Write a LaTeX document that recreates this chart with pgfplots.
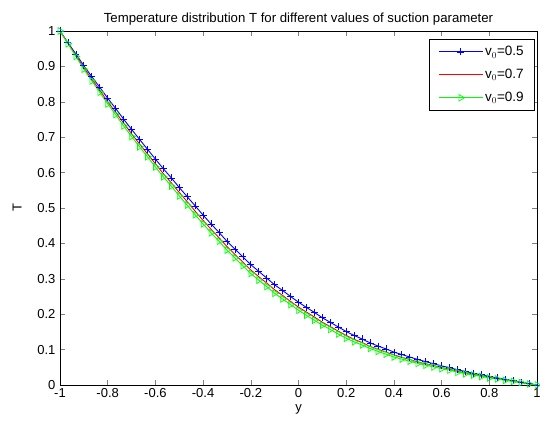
\documentclass[border=0pt]{standalone}
\usepackage{fontspec}
\setmainfont{Liberation Sans}
\usepackage{pgfplots}
\usepackage{pgfplotstable}
\pgfplotsset{compat=1.18}
\definecolor{mblue}{rgb}{0,0,1}
\definecolor{mred}{rgb}{1,0,0}
\definecolor{mgreen}{rgb}{0,1,0}
\pgfplotstableread{
x b r g
-1.0000 1.000 1.000 1.000
-0.9667 0.967 0.965 0.964
-0.9333 0.935 0.931 0.928
-0.9000 0.902 0.896 0.892
-0.8667 0.871 0.864 0.859
-0.8333 0.841 0.833 0.827
-0.8000 0.810 0.800 0.794
-0.7667 0.781 0.771 0.764
-0.7333 0.751 0.740 0.732
-0.7000 0.722 0.710 0.702
-0.6667 0.694 0.681 0.673
-0.6333 0.666 0.653 0.645
-0.6000 0.638 0.625 0.616
-0.5667 0.611 0.597 0.588
-0.5333 0.585 0.571 0.562
-0.5000 0.558 0.544 0.534
-0.4667 0.532 0.518 0.508
-0.4333 0.506 0.491 0.481
-0.4000 0.480 0.465 0.455
-0.3667 0.455 0.440 0.430
-0.3333 0.431 0.416 0.406
-0.3000 0.406 0.391 0.381
-0.2667 0.384 0.369 0.359
-0.2333 0.362 0.347 0.337
-0.2000 0.340 0.325 0.315
-0.1667 0.321 0.306 0.296
-0.1333 0.302 0.288 0.278
-0.1000 0.283 0.269 0.259
-0.0667 0.267 0.253 0.243
-0.0333 0.250 0.236 0.227
0.0000 0.234 0.220 0.211
0.0333 0.219 0.206 0.197
0.0667 0.205 0.192 0.183
0.1000 0.190 0.177 0.169
0.1333 0.177 0.165 0.157
0.1667 0.164 0.152 0.144
0.2000 0.151 0.140 0.132
0.2333 0.140 0.129 0.122
0.2667 0.130 0.120 0.113
0.3000 0.119 0.109 0.103
0.3333 0.110 0.101 0.095
0.3667 0.102 0.093 0.087
0.4000 0.093 0.085 0.079
0.4333 0.086 0.078 0.073
0.4667 0.079 0.072 0.067
0.5000 0.072 0.065 0.061
0.5333 0.066 0.060 0.056
0.5667 0.060 0.055 0.051
0.6000 0.054 0.049 0.046
0.6333 0.049 0.045 0.042
0.6667 0.043 0.039 0.036
0.7000 0.038 0.034 0.032
0.7333 0.033 0.030 0.028
0.7667 0.029 0.026 0.024
0.8000 0.024 0.022 0.020
0.8333 0.020 0.018 0.017
0.8667 0.016 0.014 0.013
0.9000 0.012 0.011 0.010
0.9333 0.008 0.007 0.007
0.9667 0.004 0.003 0.003
1.0000 0.000 0.000 0.000
}\data
\begin{document}
\begin{tikzpicture}
\begin{axis}[
  scale only axis,
  width=477pt, height=354pt,
  xmin=-1, xmax=1, ymin=0, ymax=1,
  xtick={-1,-0.8,...,1.01},
  ytick={0,0.1,...,1.01},
  xtick pos=both, ytick pos=both,
  xticklabel pos=left, yticklabel pos=left,
  tick align=inside,
  major tick length=5pt,
  axis line style={line width=0.7pt},
  tick style={line width=0.5pt},
  /pgf/number format/assume math mode=true,
  /pgf/number format/fixed,
  /pgf/number format/precision=1,
  tick label style={font=\fontsize{13}{15}\selectfont},
  yticklabel style={xshift=-1pt},
  title={Temperature distribution T for different values of suction parameter},
  title style={font=\fontsize{13.2}{15}\selectfont, yshift=-4pt},
  xlabel={y},
  ylabel={T},
  label style={font=\fontsize{13}{15}\selectfont},
  xlabel style={yshift=0pt},
  ylabel style={yshift=9pt},
  clip=false,
  legend style={at={(0.996,0.977)}, anchor=north east, line width=0.7pt,
    font=\fontsize{13.5}{15}\selectfont, row sep=8pt, inner xsep=9pt, inner ysep=5pt,
    cells={anchor=west}},
  legend image code/.code={\draw[mark repeat=2,mark phase=2,#1] plot coordinates {(0pt,0pt) (22pt,0pt) (44pt,0pt)};},
]
\addplot[mblue, line width=0.9pt, mark=+, mark size=3.5pt, mark options={line width=0.7pt}] table[x=x,y=b] {\data};
\addlegendentry{v$_0$=0.5}
\addplot[mred, line width=0.9pt, no marks] table[x=x,y=r] {\data};
\addlegendentry{v$_0$=0.7}
\addplot[mgreen, line width=0.9pt, mark=triangle, mark size=3.8pt, mark options={rotate=-90, line width=0.7pt}] table[x=x,y=g] {\data};
\addlegendentry{v$_0$=0.9}
\end{axis}
\pgfresetboundingbox
\path ([xshift=-60pt,yshift=-37pt]current axis.south west) rectangle ([xshift=3pt,yshift=31pt]current axis.north east);
\end{tikzpicture}
\end{document}
